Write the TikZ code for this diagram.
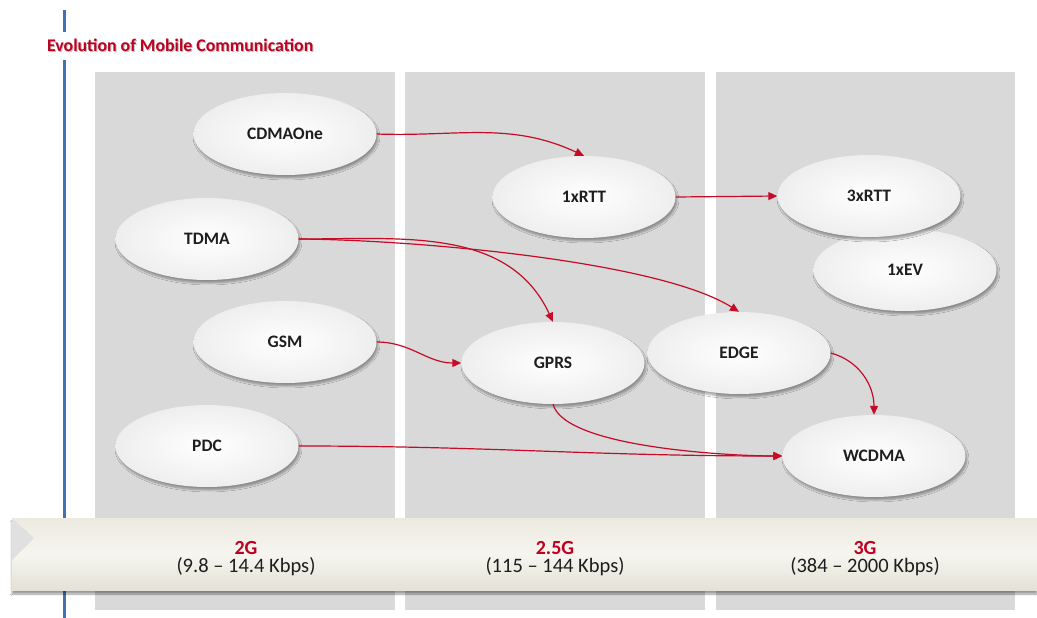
\documentclass[tikz,border=0pt]{standalone}
\usepackage{fontspec}
\setmainfont{Carlito}
\usetikzlibrary{arrows.meta,shapes.geometric,shadows.blur}
\definecolor{panelgray}{RGB}{217,217,217}
\definecolor{arrowred}{RGB}{196,12,40}
\definecolor{titlered}{RGB}{192,0,32}
\definecolor{axisblue}{RGB}{68,114,176}
\definecolor{bannertop}{RGB}{236,234,224}
\definecolor{bannermid}{RGB}{246,245,239}
\definecolor{bannerbot}{RGB}{228,226,214}
\definecolor{ellipseedge}{RGB}{238,238,238}
\definecolor{labeltext}{RGB}{30,30,30}
\begin{document}
\begin{tikzpicture}[x=1pt,y=-1pt,
  tech/.style={ellipse, minimum width=183pt, minimum height=82pt, inner sep=0pt,
    inner color=white, outer color=ellipseedge,
    blur shadow={shadow xshift=1.5pt, shadow yshift=-3pt, shadow opacity=35, shadow blur steps=6},
    font=\fontsize{17.5}{20}\selectfont\bfseries, text=labeltext},
  flow/.style={draw=arrowred, line width=1.2pt, -{Triangle[length=9pt,width=8pt]}},
  panel/.style={fill=panelgray, draw=none},
  gen/.style={font=\fontsize{20}{22}\selectfont\bfseries, text=titlered, inner sep=0pt},
  rate/.style={font=\fontsize{20.5}{22}\selectfont, text=labeltext, inner sep=0pt},
]
\useasboundingbox (0,0) rectangle (1037,618);
\fill[white] (0,0) rectangle (1037,618);

% vertical axis line
\coordinate (axtop) at (64,10);
\coordinate (axbot) at (64,618);
\draw[axisblue, line width=3pt] (axtop) -- (axbot);

% title
\node[anchor=west, fill=white, inner xsep=1pt, inner ysep=8pt, text=black!25,
  font=\fontsize{17.8}{20}\selectfont\bfseries] (titleshadow) at (47,46) {Evolution of Mobile Communication};
\node[anchor=west, inner xsep=1pt, inner ysep=8pt, text=titlered,
  font=\fontsize{17.8}{20}\selectfont\bfseries] (title) at (46,45) {Evolution of Mobile Communication};

% panels
\path[panel] (95,72) rectangle (395,610);
\path[panel] (405,72) rectangle (705,610);
\path[panel] (716,72) rectangle (1015,610);

% technology ellipses
\node[tech] (cdma) at (285,134) {CDMAOne};
\node[tech] (tdma) at (207,239) {TDMA};
\node[tech] (gsm) at (285,342) {GSM};
\node[tech] (pdc) at (207,446) {PDC};
\node[tech] (rtt1) at (584,197) {1xRTT};
\node[tech] (gprs) at (553,363) {GPRS};
\node[tech] (edge) at (739,353) {EDGE};
\node[tech] (wcdma) at (874,456) {WCDMA};
\node[tech] (ev) at (905,270) {1xEV};
\node[tech] (rtt3) at (869,196) {3xRTT};

% connectors
\draw[flow] (cdma.east) to[out=-2,in=155] (rtt1.north);
\draw[flow] (tdma.east) to[out=0,in=115] (gprs.north);
\draw[flow] (tdma.east) .. controls +(122,1) and +(-79,-50) .. (edge.north);
\draw[flow] (gsm.east) to[out=0,in=180] (gprs.west);
\draw[flow] (pdc.east) to[out=0,in=180] (wcdma.west);
\draw[flow] (gprs.south) to[out=-75,in=180,looseness=0.5] (wcdma.west);
\draw[flow] (edge.east) to[out=-15,in=90] (wcdma.north);
\draw[flow] (rtt1.east) -- (rtt3.west);

% banner
\path[top color=bannertop, bottom color=bannerbot, middle color=bannermid,
  blur shadow={shadow xshift=0pt, shadow yshift=-4pt, shadow opacity=40, shadow blur steps=6}]
  (12,518) rectangle (1037,590);
\fill[black!12] (12,518) -- (34,538) -- (12,560) -- cycle;

\node[gen] (g2) at (246,548) {2G};
\node[rate] (r2) at (246,567) {(9.8 – 14.4 Kbps)};
\node[gen] (g25) at (555,548) {2.5G};
\node[rate] (r25) at (555,567) {(115 – 144 Kbps)};
\node[gen] (g3) at (865,548) {3G};
\node[rate] (r3) at (865,567) {(384 – 2000 Kbps)};
\end{tikzpicture}
\end{document}
